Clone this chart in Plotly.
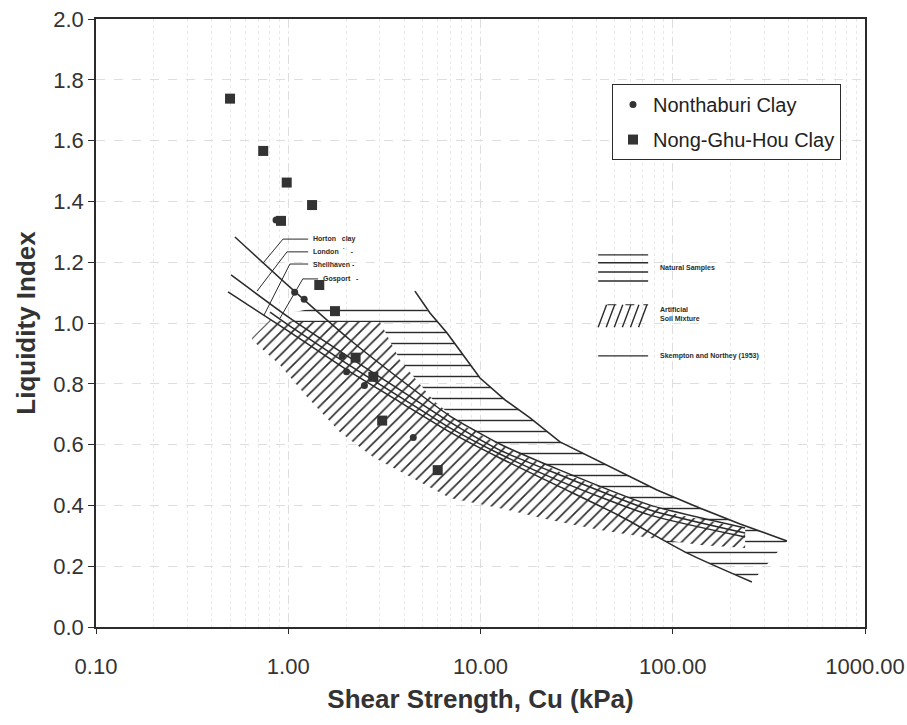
import math
import plotly.graph_objects as go

# ---- measured points --------------------------------------------------------
# Nong-Ghu-Hou clay
ngh_cu = [0.498, 0.741, 0.982, 1.33, 0.917, 1.45, 1.75, 2.24, 2.77, 3.08, 5.99]
ngh_li = [1.738, 1.566, 1.462, 1.388, 1.336, 1.125, 1.039, 0.886, 0.823, 0.679, 0.516]
# Nonthaburi clay
nth_cu = [0.864, 1.08, 1.21, 1.91, 2.01, 2.49, 4.47]
nth_li = [1.339, 1.101, 1.078, 0.891, 0.840, 0.794, 0.623]

# ---- Skempton and Northey (1953) lines ---------------------------------------
horton_cu = [0.528, 1.02, 2.10, 4.67, 6.94, 12.6, 25.9, 76.2, 238]
horton_li = [1.283, 1.118, 0.944, 0.773, 0.694, 0.602, 0.516, 0.401, 0.326]
london_cu = [0.504, 1.02, 2.10, 3.81, 6.94, 12.6, 25.9, 76.2, 238]
london_li = [1.158, 1.016, 0.885, 0.780, 0.674, 0.582, 0.500, 0.385, 0.309]
shell_cu = [0.486, 1.02, 2.10, 3.81, 6.94, 12.6, 25.9, 53.2, 119, 258]
shell_li = [1.102, 0.970, 0.839, 0.740, 0.641, 0.556, 0.461, 0.365, 0.243, 0.148]
gosport_cu = [0.804, 1.02, 2.10, 3.81, 6.94, 12.6, 25.9, 76.2, 238]
gosport_li = [1.036, 0.990, 0.859, 0.757, 0.655, 0.569, 0.480, 0.368, 0.296]

# ---- natural samples zone ------------------------------------------------------
nat_upper_cu = [4.56, 5.46, 6.70, 8.30, 9.94, 13.4, 18.1, 25.9, 33.0, 53.2, 82.8, 139, 224, 393]
nat_upper_li = [1.105, 1.033, 0.967, 0.885, 0.819, 0.747, 0.688, 0.609, 0.576, 0.510, 0.451, 0.391, 0.339, 0.283]
nat_top_cu = [2.05, 4.73]
nat_top_li = [1.069, 1.069]
nat_left_cu = [0.94]
nat_left_li = [1.03]

# ---- artificial soil mixture zone ---------------------------------------------
art_top_cu = [0.648, 0.804, 1.11, 3.00, 3.81, 5.66, 8.11, 12.6, 25.9, 53.2, 109, 238]
art_top_li = [0.951, 1.010, 1.003, 1.003, 0.878, 0.747, 0.664, 0.599, 0.510, 0.434, 0.368, 0.326]
art_low_cu = [238, 139, 76.2, 41.9, 23.0, 12.6, 6.94, 4.30, 2.76, 1.86, 1.25, 0.906, 0.648]
art_low_li = [0.260, 0.270, 0.293, 0.319, 0.352, 0.391, 0.424, 0.493, 0.559, 0.641, 0.757, 0.862, 0.944]

# ---- label leaders for the Skempton lines ------------------------------------
leader_names = ["Horton   clay", "London  \u02d9   -", "Shellhaven -", "Gosport   -"]
leader_cu = [[1.27, 0.939, 0.739], [1.27, 0.985, 0.688], [1.27, 1.02, 0.748], [1.43, 1.19, 0.906]]
leader_li = [[1.276, 1.276, 1.197], [1.234, 1.234, 1.105], [1.194, 1.194, 1.026], [1.145, 1.145, 1.016]]

x_ticks = [0.1, 1, 10, 100, 1000]
x_tick_text = ["0.10", "1.00", "10.00", "100.00", "1000.00"]
y_ticks = [0.0, 0.2, 0.4, 0.6, 0.8, 1.0, 1.2, 1.4, 1.6, 1.8, 2.0]

INK = "#2b2b2b"
TEXT = "#333333"
FONT = "Arial, Liberation Sans, sans-serif"

fig = go.Figure()

# natural samples: horizontal hatching
nat_poly_cu = nat_top_cu + nat_upper_cu[1:] + shell_cu[::-1][:8] + nat_left_cu + nat_top_cu[:1]
nat_poly_li = nat_top_li + nat_upper_li[1:] + shell_li[::-1][:8] + nat_left_li + nat_top_li[:1]
fig.add_trace(go.Scatter(
    x=nat_poly_cu, y=nat_poly_li, mode="lines", fill="toself",
    line=dict(width=0, color="rgba(0,0,0,0)"),
    fillcolor="rgba(255,255,255,0)",
    fillpattern=dict(shape="-", size=11, solidity=0.13, fgcolor=INK,
                     bgcolor="rgba(255,255,255,0)", fillmode="replace"),
    showlegend=False, hoverinfo="skip"))

# artificial soil mixture: diagonal hatching
art_poly_cu = art_top_cu + art_low_cu + art_top_cu[:1]
art_poly_li = art_top_li + art_low_li + art_top_li[:1]
fig.add_trace(go.Scatter(
    x=art_poly_cu, y=art_poly_li, mode="lines", fill="toself",
    line=dict(width=0, color="rgba(0,0,0,0)"),
    fillcolor="white",
    fillpattern=dict(shape="/", size=8, solidity=0.2, fgcolor=INK,
                     bgcolor="white", fillmode="replace"),
    showlegend=False, hoverinfo="skip"))

# upper limit of natural samples
fig.add_trace(go.Scatter(x=nat_upper_cu, y=nat_upper_li, mode="lines",
                         line=dict(color=INK, width=1.6),
                         showlegend=False, hoverinfo="skip"))

# Skempton and Northey lines
for cu, li in [(horton_cu, horton_li), (london_cu, london_li),
               (shell_cu, shell_li), (gosport_cu, gosport_li)]:
    fig.add_trace(go.Scatter(x=cu, y=li, mode="lines",
                             line=dict(color=INK, width=1.5, shape="spline", smoothing=0.6),
                             showlegend=False, hoverinfo="skip"))

# leaders and their labels
for name, cu, li in zip(leader_names, leader_cu, leader_li):
    fig.add_trace(go.Scatter(x=cu, y=li, mode="lines",
                             line=dict(color=INK, width=1),
                             showlegend=False, hoverinfo="skip"))
    fig.add_annotation(x=math.log10(cu[0] * 1.03), y=li[0], xref="x", yref="y",
                       text=name, showarrow=False, xanchor="left", yanchor="middle",
                       font=dict(family=FONT, size=7, color=INK, weight="bold"))

# measured data
fig.add_trace(go.Scatter(x=nth_cu, y=nth_li, mode="markers", name="Nonthaburi Clay",
                         legendgroup="a",
                         marker=dict(symbol="circle", size=7, color="#333333")))
fig.add_trace(go.Scatter(x=ngh_cu, y=ngh_li, mode="markers", name="Nong-Ghu-Hou Clay",
                         legendgroup="b",
                         marker=dict(symbol="square", size=10, color="#333333")))

# key for the zones (paper coordinates)
kx0, kx1 = 0.653, 0.718
shapes = []
for ky in [0.612, 0.599, 0.584, 0.569]:
    shapes.append(dict(type="line", xref="paper", yref="paper", x0=kx0, x1=kx1,
                       y0=ky, y1=ky, line=dict(color=INK, width=1.4)))
hb0, hb1 = 0.493, 0.530
for i in range(6):
    xa = kx0 + i * 0.0105
    shapes.append(dict(type="line", xref="paper", yref="paper", x0=xa, x1=xa + 0.011,
                       y0=hb0, y1=hb1, line=dict(color=INK, width=1.4)))
shapes.append(dict(type="line", xref="paper", yref="paper", x0=kx0 + 0.012, x1=kx1,
                   y0=hb1, y1=hb1, line=dict(color=INK, width=1.2, dash="dash")))
shapes.append(dict(type="line", xref="paper", yref="paper", x0=kx0, x1=kx1,
                   y0=0.446, y1=0.446, line=dict(color=INK, width=1.4)))

for txt, ky in [("Natural Samples", 0.590), ("Artificial<br>Soil Mixture", 0.515),
                ("Skempton and Northey (1953)", 0.446)]:
    fig.add_annotation(x=0.731, y=ky, xref="paper", yref="paper", text=txt,
                       showarrow=False, xanchor="left", yanchor="middle", align="left",
                       font=dict(family=FONT, size=7, color=INK, weight="bold"))

grid = dict(gridcolor="#dedede", griddash="dash", gridwidth=1)

fig.update_layout(
    width=907, height=725,
    margin=dict(l=96, r=42, t=19, b=98, autoexpand=False),
    paper_bgcolor="white", plot_bgcolor="white",
    font=dict(family=FONT, color=TEXT),
    shapes=shapes,
    showlegend=True,
    legend=dict(x=0.671, y=0.893, xanchor="left", yanchor="top",
                bgcolor="white", bordercolor=INK, borderwidth=1,
                font=dict(family=FONT, size=20, color="#222222"),
                tracegroupgap=6, itemwidth=30),
    xaxis=dict(type="log", range=[-1, 3], tickvals=x_ticks, ticktext=x_tick_text,
               automargin=False,
               showline=True, linecolor=INK, linewidth=1.5, mirror=True,
               ticks="outside", ticklen=5, tickcolor=INK, ticklabelstandoff=14,
               tickfont=dict(size=22, color=TEXT),
               showgrid=True, **grid,
               minor=dict(dtick="D1", showgrid=True, gridcolor="#e8e8e8", griddash="dot", ticks=""),
               title=dict(text="Shear Strength, Cu (kPa)", standoff=12,
                          font=dict(size=26, color=TEXT, weight="bold")),
               zeroline=False),
    yaxis=dict(range=[0, 2], tickvals=y_ticks, tickformat=".1f",
               automargin=False,
               showline=True, linecolor=INK, linewidth=1.5, mirror=True,
               ticks="outside", ticklen=6, tickcolor=INK,
               tickfont=dict(size=22, color=TEXT),
               showgrid=True, **grid,
               title=dict(text="Liquidity Index", standoff=10,
                          font=dict(size=26, color=TEXT, weight="bold")),
               zeroline=False),
)

fig.write_html("out.html")
